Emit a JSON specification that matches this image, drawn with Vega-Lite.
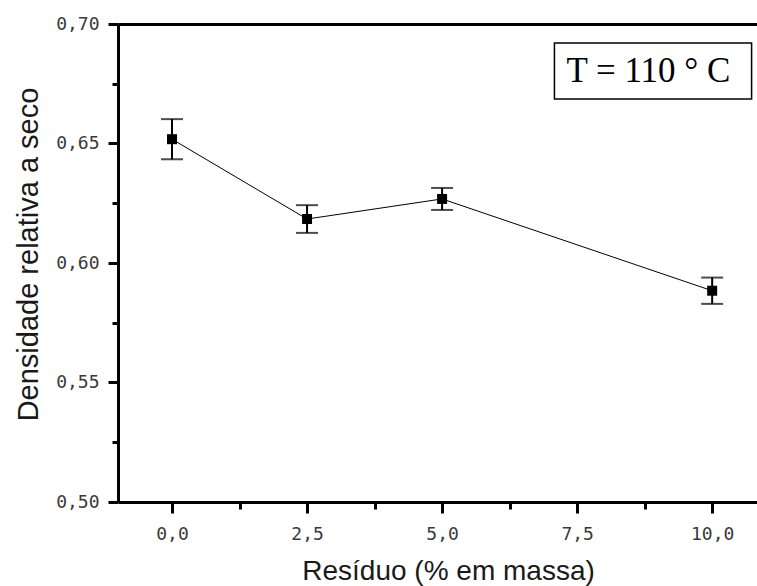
{
  "$schema": "https://vega.github.io/schema/vega-lite/v6.json",
  "width": 639,
  "height": 478,
  "autosize": {"type": "none"},
  "padding": {"left": 118, "top": 24, "right": 0, "bottom": 84},
  "background": "white",
  "config": {
    "view": {"stroke": null},
    "axis": {
      "grid": false,
      "domainColor": "black",
      "domainWidth": 3,
      "tickColor": "black",
      "tickWidth": 3,
      "labelFont": "DejaVu Sans Mono",
      "labelFontSize": 18,
      "labelColor": "#3a3a3a",
      "labelFlush": false,
      "labelOverlap": false,
      "labelBound": false,
      "titleFont": "Liberation Sans",
      "titleFontSize": 29,
      "titleFontWeight": "normal",
      "titleColor": "#1a1a1a"
    }
  },
  "data": {
    "values": [
      {"res": 0, "dens": 0.6518, "err": 0.0084},
      {"res": 2.5, "dens": 0.6184, "err": 0.0058},
      {"res": 5, "dens": 0.6268, "err": 0.0046},
      {"res": 10, "dens": 0.5884, "err": 0.0055}
    ]
  },
  "layer": [
    {
      "mark": {"type": "line", "color": "black", "strokeWidth": 1},
      "encoding": {
        "x": {
          "field": "res", "type": "quantitative",
          "scale": {"domain": [-1, 10.83], "nice": false, "zero": false},
          "axis": {
            "orient": "bottom",
            "values": [0, 2.5, 5, 7.5, 10],
            "labelExpr": "replace(format(datum.value, '.1f'), '.', ',')",
            "tickSize": 11,
            "labelPadding": 26,
            "labelBaseline": "alphabetic",
            "title": "Resíduo (% em massa)",
            "titleFontSize": 28,
            "titleX": 330,
            "titleY": 77,
            "titleBaseline": "alphabetic",
            "titleAlign": "center"
          }
        },
        "y": {
          "field": "dens", "type": "quantitative",
          "scale": {"domain": [0.5, 0.7], "nice": false, "zero": false},
          "axis": {
            "orient": "left",
            "values": [0.5, 0.55, 0.6, 0.65, 0.7],
            "labelExpr": "replace(format(datum.value, '.2f'), '.', ',')",
            "tickSize": 10,
            "labelPadding": 9,
            "labelBaseline": "middle",
            "title": "Densidade relativa a seco",
            "titleX": -81,
            "titleY": 230,
            "titleAngle": -90,
            "titleBaseline": "alphabetic",
            "titleAlign": "center"
          }
        }
      }
    },
    {
      "mark": {
        "type": "errorbar",
        "ticks": {"size": 22, "thickness": 2, "color": "black"},
        "rule": {"strokeWidth": 2, "color": "black"}
      },
      "encoding": {
        "x": {"field": "res", "type": "quantitative", "axis": null},
        "y": {"field": "dens", "type": "quantitative", "axis": null},
        "yError": {"field": "err"}
      }
    },
    {
      "mark": {"type": "square", "size": 100, "color": "black", "opacity": 1},
      "encoding": {
        "x": {"field": "res", "type": "quantitative", "axis": null},
        "y": {"field": "dens", "type": "quantitative", "axis": null}
      }
    },
    {
      "mark": {"type": "point", "opacity": 0},
      "encoding": {
        "x": {
          "field": "res", "type": "quantitative",
          "axis": {"orient": "bottom", "values": [1.25, 3.75, 6.25, 8.75], "labels": false, "domain": false, "tickSize": 7, "title": null}
        },
        "y": {
          "field": "dens", "type": "quantitative",
          "axis": {"orient": "left", "values": [0.525, 0.575, 0.625, 0.675], "labels": false, "domain": false, "tickSize": 6, "title": null}
        }
      }
    },
    {
      "mark": {"type": "point", "opacity": 0},
      "encoding": {
        "x": {
          "field": "res", "type": "quantitative",
          "axis": {"orient": "top", "ticks": false, "labels": false, "domain": true, "title": null}
        },
        "y": {"field": "dens", "type": "quantitative", "axis": null}
      }
    },
    {
      "data": {"values": [{"box": "T"}]},
      "mark": {"type": "rect", "fill": "white", "stroke": "black", "strokeWidth": 1.5},
      "encoding": {
        "x": {"datum": 7.08, "type": "quantitative", "axis": null},
        "x2": {"datum": 10.73},
        "y": {"datum": 0.692, "type": "quantitative", "axis": null},
        "y2": {"datum": 0.6686}
      }
    },
    {
      "data": {"values": [{"label": "T = 110 ° C"}]},
      "mark": {"type": "text", "font": "Liberation Serif", "fontSize": 35, "color": "black", "align": "center", "baseline": "alphabetic"},
      "encoding": {
        "x": {"datum": 8.82, "type": "quantitative", "axis": null},
        "y": {"datum": 0.6757, "type": "quantitative", "axis": null},
        "text": {"field": "label"}
      }
    }
  ],
  "resolve": {"axis": {"x": "independent", "y": "independent"}}
}
